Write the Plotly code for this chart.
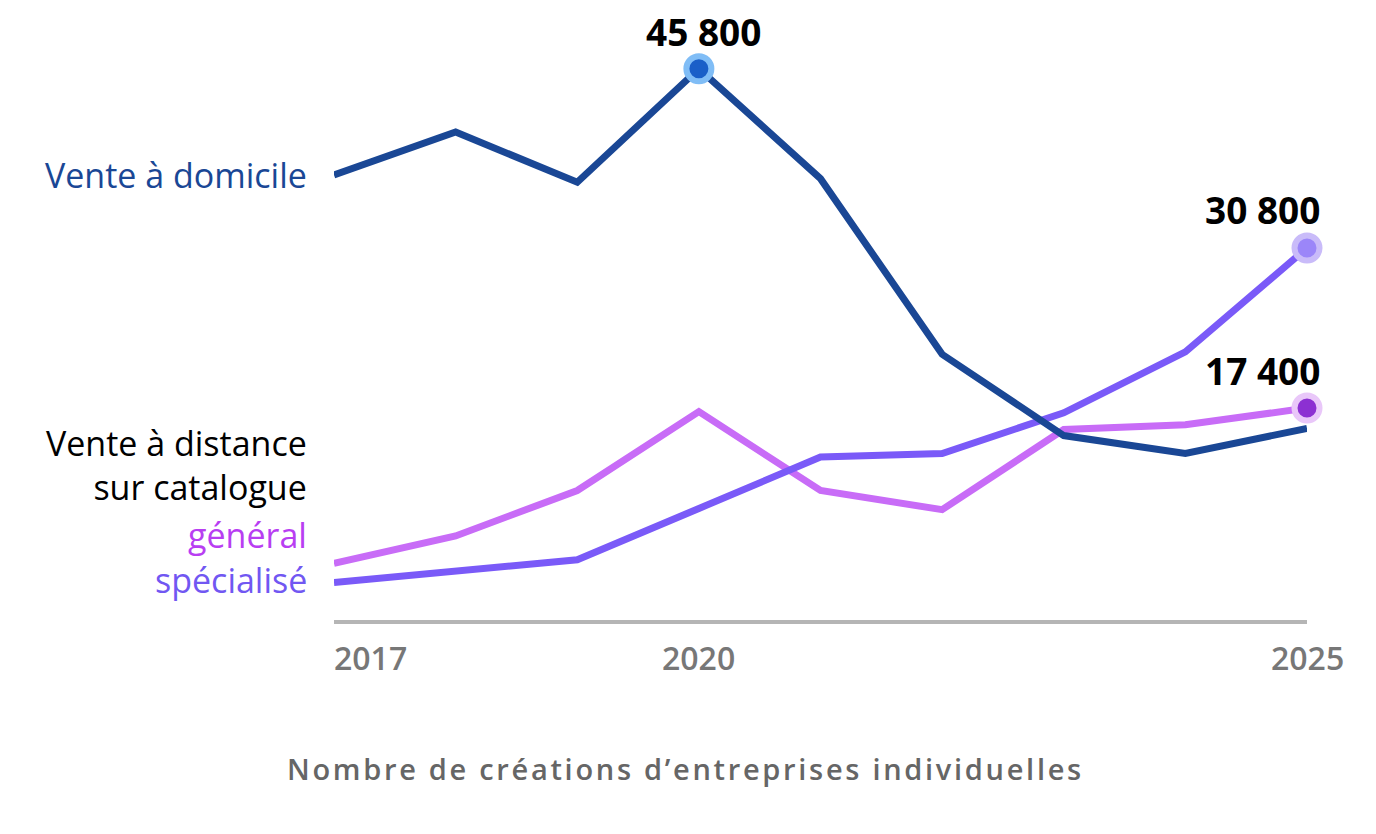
import plotly.graph_objects as go

years = [2017, 2018, 2019, 2020, 2021, 2022, 2023, 2024, 2025]
domicile = [36900, 40500, 36300, 45800, 36600, 21900, 15100, 13600, 15700]
specialise = [2800, 3700, 4700, 9000, 13300, 13600, 17000, 22100, 30800]
general = [4400, 6700, 10500, 17100, 10500, 8900, 15600, 16000, 17400]

tick_years = [2017, 2020, 2025]
series_labels = ["Vente à domicile", "Vente à distance<br>sur catalogue", "général", "spécialisé"]
title_text = "Nombre de créations d’entreprises individuelles"

C_DOM = "#1a4795"
C_SPE = "#7a5af8"
C_GEN = "#c86cf7"
FONT = "Open Sans"

fig = go.Figure()
fig.add_trace(go.Scatter(x=years, y=general, mode="lines", line=dict(color=C_GEN, width=7), hoverinfo="skip"))
fig.add_trace(go.Scatter(x=years, y=specialise, mode="lines", line=dict(color=C_SPE, width=7), hoverinfo="skip"))
fig.add_trace(go.Scatter(x=years, y=domicile, mode="lines", line=dict(color=C_DOM, width=7), hoverinfo="skip"))

peak_i = domicile.index(max(domicile))
for xv, yv, fill, ring in [(years[peak_i], domicile[peak_i], "#1a5fc8", "#80bdf6"),
                           (years[-1], specialise[-1], "#9b86f9", "#c9bbf9"),
                           (years[-1], general[-1], "#8c30d2", "#e9c7f9")]:
    fig.add_trace(go.Scatter(x=[xv], y=[yv], mode="markers", cliponaxis=False,
                             marker=dict(size=25, color=fill, line=dict(color=ring, width=6)), hoverinfo="skip"))

def fmt(v):
    return f"{v:,}".replace(",", " ")

ann = []
ann.append(dict(x=years[peak_i], y=domicile[peak_i], xref="x", yref="y", text=f"<b>{fmt(domicile[peak_i])}</b>",
                showarrow=False, yshift=37, xshift=5, font=dict(family=FONT, size=37, color="#000")))
for yv in [specialise[-1], general[-1]]:
    ann.append(dict(x=years[-1], y=yv, xref="x", yref="y", text=f"<b>{fmt(yv)}</b>", showarrow=False,
                    xanchor="right", yshift=38, xshift=15, font=dict(family=FONT, size=37, color="#000")))

H = 570.0
def py(p):
    return (620 - p) / H

left_specs = [(series_labels[0], 175, C_DOM), (series_labels[1], 465, "#000"),
              (series_labels[2], 535, "#b83ef2"), (series_labels[3], 580, "#7157f2")]
for t, p, c in left_specs:
    ann.append(dict(x=0, y=py(p), xref="paper", yref="paper", text=t, showarrow=False, xanchor="right",
                    align="right", yanchor="middle", xshift=-25, font=dict(family=FONT, size=34, color=c)))

for yr in tick_years:
    ann.append(dict(x=yr, y=py(657), xref="x", yref="paper", text=str(yr), showarrow=False,
                    xanchor="left" if yr == tick_years[0] else "center", yanchor="middle",
                    xshift=-2 if yr == tick_years[0] else 0,
                    font=dict(family=FONT, size=32, color="#777", weight=600)))

ann.append(dict(x=(685 - 334) / 973, y=py(768), xref="paper", yref="paper",
                text=f'<span style="letter-spacing:2.7px">{title_text}</span>', showarrow=False,
                xanchor="center", yanchor="middle", font=dict(family=FONT, size=29, color="#666", weight=600)))

fig.update_layout(
    width=1368, height=826,
    margin=dict(l=326, r=69, t=42, b=214),
    paper_bgcolor="white", plot_bgcolor="white",
    showlegend=False,
    annotations=ann,
    xaxis=dict(range=[2017, 2025], showgrid=False, zeroline=False, showticklabels=False,
               showline=True, linecolor="#b5b5b5", linewidth=4, ticks=""),
    yaxis=dict(range=[-335, 47365], showgrid=False, zeroline=False, showticklabels=False, showline=False),
)
fig.write_html("out.html")
